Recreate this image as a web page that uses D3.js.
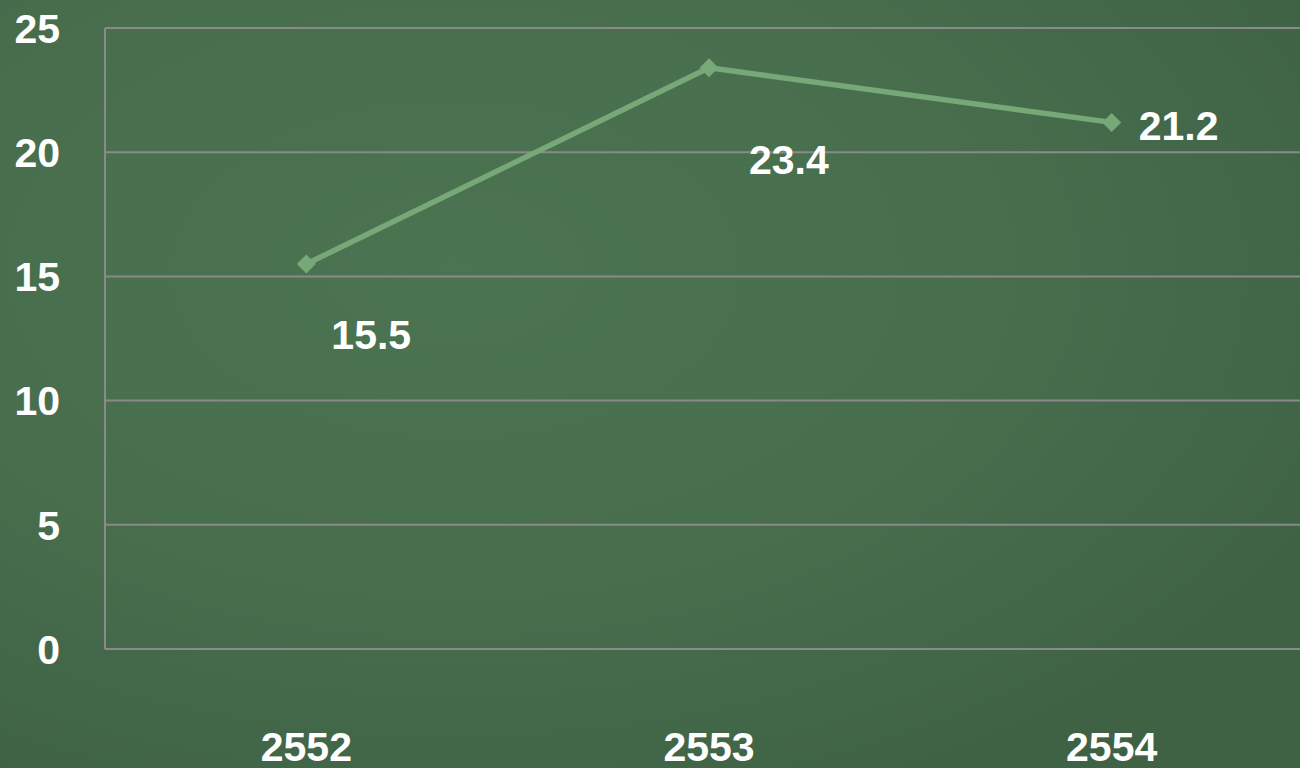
<!DOCTYPE html>
<html>
<head>
<meta charset="utf-8">
<script src="https://cdn.jsdelivr.net/npm/d3@7"></script>
<style>
  html, body { margin: 0; padding: 0; background: #476d4d; }
  svg { display: block; }
  text { font-family: "Liberation Sans", Arial, sans-serif; font-weight: bold; fill: #fff; }
</style>
</head>
<body>
<div id="chart"></div>
<script>
var years = ["2552", "2553", "2554"];
var values = [15.5, 23.4, 21.2];
var yTicks = [0, 5, 10, 15, 20, 25];

var W = 1300, H = 768,
    margin = {top: 28, right: -13, bottom: 119, left: 105},
    width = W - margin.left - margin.right,
    height = H - margin.top - margin.bottom;

var svg = d3.select("#chart").append("svg").attr("width", W).attr("height", H);

// background
var defs = svg.append("defs");
var rg = defs.append("radialGradient").attr("id", "bg")
    .attr("cx", "35%").attr("cy", "35%").attr("r", "75%");
rg.append("stop").attr("offset", "0%").attr("stop-color", "#4b7451");
rg.append("stop").attr("offset", "60%").attr("stop-color", "#476d4d");
rg.append("stop").attr("offset", "100%").attr("stop-color", "#3f6245");
svg.append("rect").attr("width", W).attr("height", H).attr("fill", "url(#bg)");

var g = svg.append("g").attr("transform", "translate(" + margin.left + "," + margin.top + ")");

var x = d3.scaleBand().domain(years).range([0, width]);
var y = d3.scaleLinear().domain([0, 25]).range([height, 0]);

// gridlines
g.selectAll(".grid").data(yTicks).enter().append("line")
    .attr("x1", 0).attr("x2", W - margin.left)
    .attr("y1", function(d) { return y(d); }).attr("y2", function(d) { return y(d); })
    .attr("stroke", "#8a8a8a").attr("stroke-width", 2);

g.append("line").attr("x1", 0).attr("x2", 0).attr("y1", 0).attr("y2", height)
    .attr("stroke", "#8a8a8a").attr("stroke-width", 2);

// y tick labels
g.selectAll(".ytick").data(yTicks).enter().append("text")
    .attr("x", -45).attr("y", function(d) { return y(d); })
    .attr("dy", "0.36em").attr("text-anchor", "end")
    .attr("font-size", "41px").text(function(d) { return d; });

// x labels
g.selectAll(".xtick").data(years).enter().append("text")
    .attr("x", function(d) { return x(d) + x.bandwidth() / 2; })
    .attr("y", height + 97).attr("dy", "0.36em").attr("text-anchor", "middle")
    .attr("font-size", "41px").text(function(d) { return d; });

var pts = years.map(function(d, i) { return {year: d, value: values[i]}; });
var cx = function(d) { return x(d.year) + x.bandwidth() / 2; };

var line = d3.line().x(cx).y(function(d) { return y(d.value); });

g.append("path").datum(pts).attr("d", line)
    .attr("fill", "none").attr("stroke", "#76a878").attr("stroke-width", 5.5)
    .attr("stroke-linejoin", "round");

g.selectAll(".mark").data(pts).enter().append("path")
    .attr("d", d3.symbol().type(d3.symbolDiamond2).size(230))
    .attr("transform", function(d) { return "translate(" + cx(d) + "," + y(d.value) + ")"; })
    .attr("fill", "#76a878");

// data labels, nudged like the original
var nudge = [[25, 70], [40, 91], [27, 3]];
g.selectAll(".lbl").data(pts).enter().append("text")
    .attr("x", function(d, i) { return cx(d) + nudge[i][0]; })
    .attr("y", function(d, i) { return y(d.value) + nudge[i][1]; })
    .attr("dy", "0.36em").attr("font-size", "41px").attr("font-weight", "normal")
    .text(function(d) { return d.value; });
</script>
</body>
</html>
